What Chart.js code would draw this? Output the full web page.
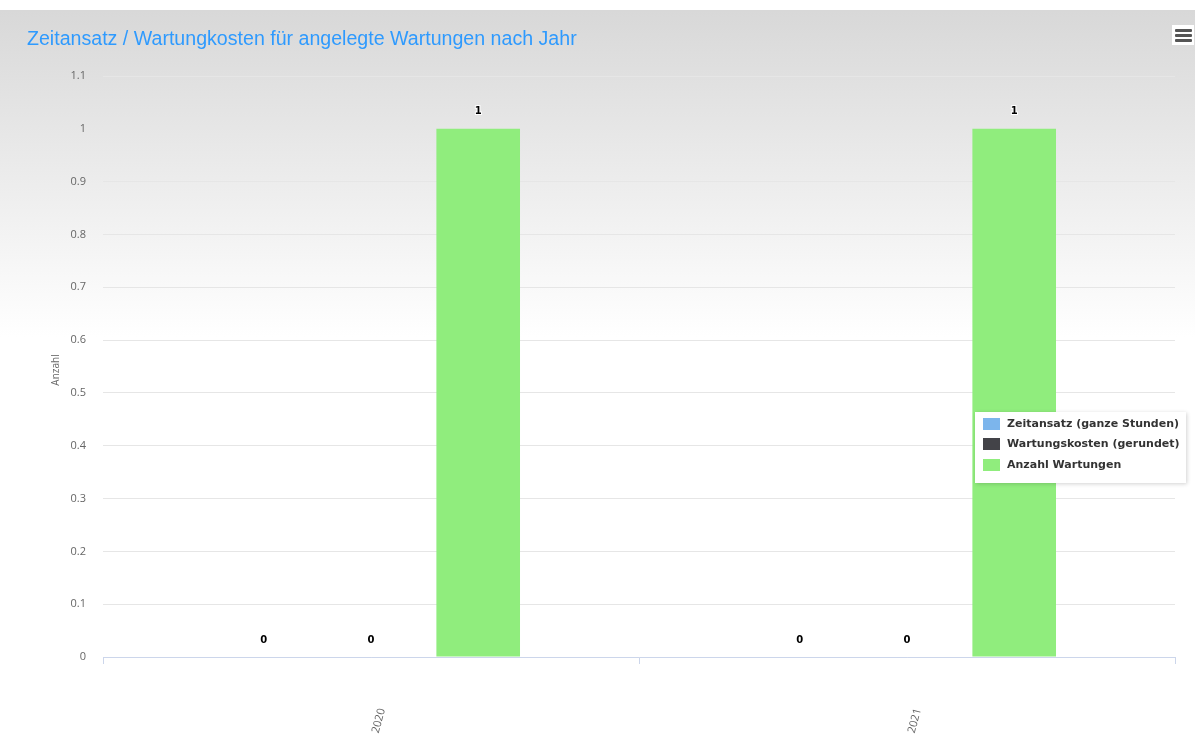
<!DOCTYPE html>
<html><head><meta charset="utf-8">
<script src="https://cdn.jsdelivr.net/npm/chart.js@4"></script>
<style>
html,body{margin:0;padding:0;background:#fff;}
#wrap{position:relative;width:1195px;height:736px;overflow:hidden;}
canvas{display:block;}
#menu{position:absolute;left:1172px;top:25px;width:22px;height:20px;background:#fff;}
#menu span{position:absolute;left:3px;width:17px;height:3px;background:#555;border-radius:1px;}
</style></head><body>
<div id="wrap"><canvas id="c" width="1195" height="736"></canvas><div id="menu"><span style="top:4px"></span><span style="top:9px"></span><span style="top:14px"></span></div></div>
<script>
const chartTitle = 'Zeitansatz / Wartungkosten für angelegte Wartungen nach Jahr';
const yAxisTitle = 'Anzahl';
const categories = ['2020', '2021'];
const seriesNames = ['Zeitansatz (ganze Stunden)', 'Wartungskosten (gerundet)', 'Anzahl Wartungen'];
const zeitansatz = [0, 0];
const wartungskosten = [0, 0];
const anzahlWartungen = [1, 1];
const seriesColors = ['#7cb5ec', '#434348', '#90ed7d'];
const yMin = 0, yMax = 1.1, yStep = 0.1;

const bgPlugin = {
  id: 'bg',
  beforeDraw(chart) {
    const ctx = chart.ctx;
    ctx.save();
    const g = ctx.createLinearGradient(0, 10, 0, 736);
    g.addColorStop(0, '#d8d8d8');
    g.addColorStop(0.45, '#ffffff');
    g.addColorStop(1, '#ffffff');
    ctx.fillStyle = g;
    ctx.fillRect(0, 10, chart.width, chart.height - 10);
    ctx.restore();
  }
};

const textPlugin = {
  id: 'texts',
  afterDraw(chart) {
    const ctx = chart.ctx;
    ctx.save();
    // title
    ctx.fillStyle = '#2e9afe';
    ctx.font = '19.6px "Liberation Sans", Arial, sans-serif';
    ctx.textBaseline = 'alphabetic';
    ctx.textAlign = 'left';
    ctx.fillText(chartTitle, 27, 45);
    // y axis title
    ctx.save();
    ctx.translate(56, 370);
    ctx.rotate(-Math.PI / 2);
    ctx.fillStyle = '#666';
    ctx.font = '10px "Open Sans", sans-serif';
    ctx.textAlign = 'center';
    ctx.textBaseline = 'middle';
    ctx.fillText(yAxisTitle, 0, 0);
    ctx.restore();
    // data labels
    ctx.font = 'bold 10px "DejaVu Sans", sans-serif';
    ctx.textAlign = 'center';
    ctx.textBaseline = 'middle';
    chart.data.datasets.forEach((ds, i) => {
      const meta = chart.getDatasetMeta(i);
      meta.data.forEach((el, j) => {
        const t = String(ds.data[j]);
        ctx.lineWidth = 2;
        ctx.strokeStyle = '#fff';
        ctx.strokeText(t, el.x, el.y - 17);
        ctx.fillStyle = '#000';
        ctx.fillText(t, el.x, el.y - 17);
      });
    });
    // legend
    const bx = 975, by = 412, bw = 211, bh = 71;
    ctx.save();
    ctx.shadowColor = 'rgba(0,0,0,0.18)';
    ctx.shadowBlur = 4;
    ctx.shadowOffsetX = 1;
    ctx.shadowOffsetY = 1;
    ctx.fillStyle = '#fff';
    ctx.fillRect(bx, by, bw, bh);
    ctx.restore();
    ctx.font = 'bold 11px "DejaVu Sans", sans-serif';
    ctx.textAlign = 'left';
    ctx.textBaseline = 'middle';
    const rows = [424, 444, 465];
    chart.data.datasets.forEach((ds, i) => {
      ctx.fillStyle = ds.backgroundColor;
      ctx.fillRect(983, rows[i] - 6, 17, 12);
      ctx.fillStyle = '#333';
      ctx.fillText(ds.label, 1007, rows[i]);
    });
    ctx.restore();
  }
};

new Chart(document.getElementById('c'), {
  type: 'bar',
  data: {
    labels: categories,
    datasets: [
      { label: seriesNames[0], data: zeitansatz, backgroundColor: seriesColors[0] },
      { label: seriesNames[1], data: wartungskosten, backgroundColor: seriesColors[1] },
      { label: seriesNames[2], data: anzahlWartungen, backgroundColor: seriesColors[2] }
    ]
  },
  options: {
    responsive: false,
    animation: false,
    events: [],
    layout: { padding: { top: 76, right: 20, left: 0, bottom: 0 } },
    datasets: { bar: { categoryPercentage: 0.6, barPercentage: 0.78, borderWidth: 0 } },
    plugins: { legend: { display: false }, title: { display: false }, tooltip: { enabled: false } },
    scales: {
      x: {
        grid: { drawOnChartArea: false, drawTicks: true, tickLength: 7, color: '#ccd6eb', offset: true },
        border: { color: '#ccd6eb' },
        ticks: { minRotation: 75, maxRotation: 75, padding: 43, labelOffset: 11, color: '#666',
                 font: { family: '"Open Sans", sans-serif', size: 11 } },
        afterFit(s) { s.height = 79; }
      },
      y: {
        min: yMin, max: yMax,
        grid: { color: '#e6e6e6', drawTicks: false },
        border: { display: false },
        ticks: { stepSize: yStep, padding: 17, color: '#666',
                 font: { family: '"Open Sans", sans-serif', size: 11 },
                 callback: v => String(Math.round(v * 10) / 10) },
        afterFit(s) { s.width = 103; }
      }
    }
  },
  plugins: [bgPlugin, textPlugin]
});
</script>
</body></html>
